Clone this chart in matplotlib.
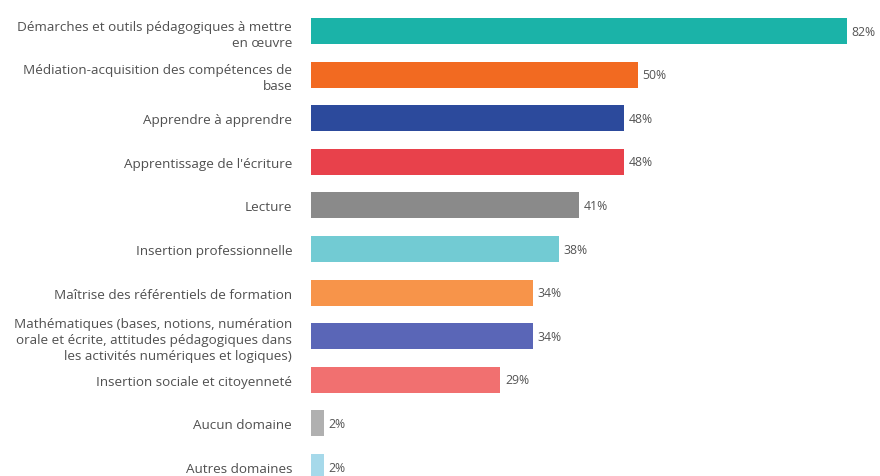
import matplotlib.pyplot as plt

plt.rcParams['font.family'] = ['Open Sans', 'DejaVu Sans']

labels = [
    'Démarches et outils pédagogiques à mettre\nen œuvre',
    'Médiation-acquisition des compétences de\nbase',
    'Apprendre à apprendre',
    "Apprentissage de l'écriture",
    'Lecture',
    'Insertion professionnelle',
    'Maîtrise des référentiels de formation',
    'Mathématiques (bases, notions, numération\norale et écrite, attitudes pédagogiques dans\nles activités numériques et logiques)',
    'Insertion sociale et citoyenneté',
    'Aucun domaine',
    'Autres domaines',
]
values = [82, 50, 48, 48, 41, 38, 34, 34, 29, 2, 2]
colors = ['#1bb3a8', '#f26a21', '#2c4a9c', '#e8414b', '#8a8a8a', '#72cbd3',
          '#f7944a', '#5a66b7', '#f17070', '#b0b0b0', '#a6d9ea']

fig = plt.figure(figsize=(8.8, 4.77), dpi=100)
ax = fig.add_axes([0.3534, 0, 0.642, 1])

y = list(range(len(values)))
ax.barh(y, values, height=0.6, color=colors)
ax.set_xlim(0, 86.5)
ax.set_ylim(10.206, -0.734)

for yi, v in zip(y, values):
    ax.text(v + 0.7, yi, f'{v}%', va='center', ha='left', fontsize=8.8, color='#555555')

ax.set_yticks(y)
ax.set_yticklabels(labels, fontsize=9.7, color='#505050', multialignment='right',
                   linespacing=1.32)
ax.tick_params(axis='y', length=0, pad=13.5)
ax.set_xticks([])
for s in ax.spines.values():
    s.set_visible(False)

plt.savefig('out.png')
